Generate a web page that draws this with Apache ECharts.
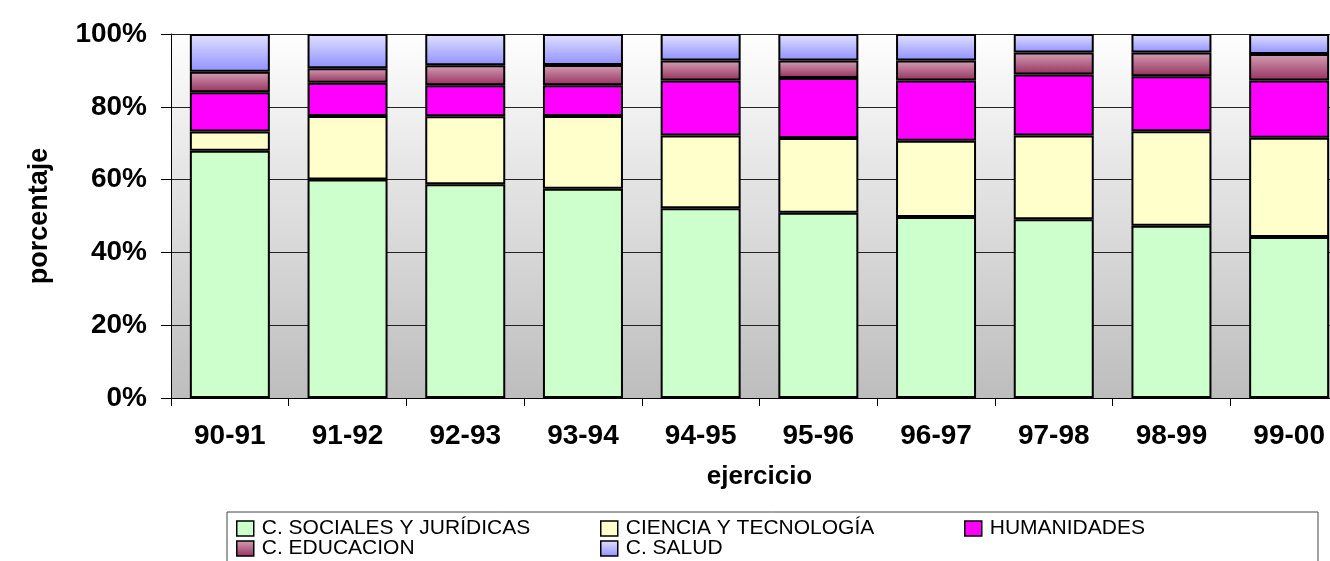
<!DOCTYPE html>
<html>
<head>
<meta charset="utf-8">
<script src="https://cdn.jsdelivr.net/npm/echarts@6/dist/echarts.min.js"></script>
<style>
  html, body { margin: 0; padding: 0; background: #fff; }
  #chart { width: 1330px; height: 561px; }
</style>
</head>
<body>
<div id="chart"></div>
<script>
// data (percent of each year)
const ejercicios = ['90-91', '91-92', '92-93', '93-94', '94-95', '95-96', '96-97', '97-98', '98-99', '99-00'];
const sociales    = [67.9, 60.0, 58.7, 57.5, 52.1, 50.9, 49.7, 49.1, 47.3, 44.2];
const ciencia     = [5.3, 17.5, 18.7, 20.0, 20.0, 20.5, 21.0, 23.0, 26.0, 27.3];
const humanidades = [10.8, 9.1, 8.5, 8.4, 15.1, 16.5, 16.5, 16.8, 15.1, 15.7];
const educacion   = [5.6, 4.0, 5.5, 5.6, 5.5, 4.8, 5.5, 6.0, 6.5, 7.3];
const salud       = [10.4, 9.4, 8.6, 8.5, 7.3, 7.3, 7.3, 5.1, 5.1, 5.5];
const yTicks = [0, 20, 40, 60, 80, 100];

const FONT = 'Liberation Sans, Arial, sans-serif';

function grad(top, bottom) {
  return new echarts.graphic.LinearGradient(0, 0, 0, 1, [
    { offset: 0, color: top },
    { offset: 1, color: bottom }
  ]);
}

const names = ['C. SOCIALES Y JURÍDICAS', 'CIENCIA Y TECNOLOGÍA', 'HUMANIDADES', 'C. EDUCACION', 'C. SALUD'];
const values = [sociales, ciencia, humanidades, educacion, salud];
const colors = ['#ccffcc', '#ffffcc', '#ff00ff', grad('#d4a0b4', '#963060'), grad('#e2e2ff', '#9090ff')];

// legend slots: [left, top]
const legendPos = [[236, 518], [600, 518], [964, 518], [236, 538], [600, 538]];

const myChart = echarts.init(document.getElementById('chart'));

// plot runs past the right edge of the picture, like the source image (cropped)
const option = {
  animation: false,
  backgroundColor: '#fff',
  grid: {
    left: 171, top: 34, width: 1177, height: 364,
    outerBoundsMode: 'none',
    containLabel: false,
    show: true,
    borderWidth: 0,
    backgroundColor: grad('#fefefe', '#bdbdbd')
  },
  graphic: [{
    type: 'rect',
    z: 0,
    shape: { x: 227, y: 512, width: 1091, height: 60 },
    style: { fill: '#fff', stroke: '#444', lineWidth: 1 }
  }],
  legend: names.map(function (n, i) {
    return {
      data: [n],
      left: legendPos[i][0],
      top: legendPos[i][1],
      padding: 0,
      selectedMode: false,
      icon: 'rect',
      itemWidth: 17,
      itemHeight: 15,
      itemStyle: { borderColor: '#000', borderWidth: 1.5 },
      textStyle: { fontFamily: FONT, fontSize: 21, color: '#000', padding: [0, 0, 0, 3] }
    };
  }),
  xAxis: {
    type: 'category',
    data: ejercicios,
    name: 'ejercicio',
    nameLocation: 'middle',
    nameGap: 66,
    nameTextStyle: { fontFamily: FONT, fontSize: 26, fontWeight: 'bold', color: '#000' },
    axisLine: { lineStyle: { color: '#000', width: 1 } },
    axisTick: { show: true, length: 8, lineStyle: { color: '#000' } },
    axisLabel: { fontFamily: FONT, fontSize: 28, fontWeight: 'bold', color: '#000', margin: 24 }
  },
  yAxis: {
    type: 'value',
    min: yTicks[0],
    max: yTicks[yTicks.length - 1],
    interval: yTicks[1] - yTicks[0],
    name: 'porcentaje',
    nameLocation: 'middle',
    nameGap: 118,
    nameTextStyle: { fontFamily: FONT, fontSize: 27, fontWeight: 'bold', color: '#000' },
    axisLine: { show: true, lineStyle: { color: '#000', width: 1 } },
    axisTick: { show: true, length: 10, lineStyle: { color: '#000' } },
    splitLine: { show: true, lineStyle: { color: '#222', width: 1 } },
    axisLabel: { fontFamily: FONT, fontSize: 28, fontWeight: 'bold', color: '#000', margin: 24, formatter: '{value}%' }
  },
  series: names.map(function (n, i) {
    return {
      name: n,
      type: 'bar',
      stack: 'total',
      barWidth: 80,
      data: values[i],
      itemStyle: { color: colors[i], borderColor: '#000', borderWidth: 2 },
      emphasis: { disabled: true }
    };
  })
};

myChart.setOption(option);
</script>
</body>
</html>
